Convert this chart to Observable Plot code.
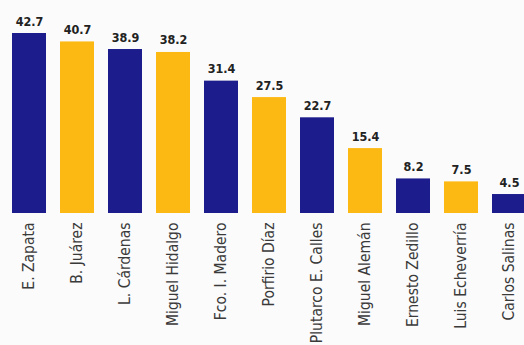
<!DOCTYPE html>
<html>
<head>
<meta charset="utf-8">
<script src="https://cdn.jsdelivr.net/npm/d3@7"></script>
<script src="https://cdn.jsdelivr.net/npm/@observablehq/plot@0.6"></script>
<style>
  html, body { margin: 0; padding: 0; background: #fbfbfb; }
  #chart { width: 524px; height: 345px; overflow: hidden; }
  #chart svg text { font-stretch: condensed; }
</style>
</head>
<body>
<div id="chart"></div>
<script>
const names = ["E. Zapata", "B. Juárez", "L. Cárdenas", "Miguel Hidalgo", "Fco. I. Madero", "Porfirio Díaz", "Plutarco E. Calles", "Miguel Alemán", "Ernesto Zedillo", "Luis Echeverría", "Carlos Salinas"];
const values = [42.7, 40.7, 38.9, 38.2, 31.4, 27.5, 22.7, 15.4, 8.2, 7.5, 4.5];
const groups = ["a", "b", "a", "b", "a", "b", "a", "b", "a", "b", "a"];
const labels = ["42.7", "40.7", "38.9", "38.2", "31.4", "27.5", "22.7", "15.4", "8.2", "7.5", "4.5"];

const data = names.map((n, i) => ({name: n, value: values[i], group: groups[i], label: labels[i]}));

const chart = Plot.plot({
  width: 524,
  height: 345,
  marginTop: 33,
  marginBottom: 132,
  marginLeft: 0,
  marginRight: 0,
  style: {background: "#fbfbfb", fontFamily: "'DejaVu Sans', sans-serif"},
  x: {domain: names, range: [5, 533], paddingInner: 0.29, paddingOuter: 0.145, label: null},
  y: {domain: [0, 42.7], axis: null},
  color: {domain: ["a", "b"], range: ["#1c1c8c", "#fdb913"]},
  marks: [
    Plot.barY(data, {x: "name", y: "value", fill: "group"}),
    Plot.text(data, {x: "name", y: "value", text: "label", dy: -12, fontSize: 12.5, fontWeight: "bold", fill: "#222"}),
    Plot.axisX({tickSize: 0, tickPadding: 9, tickRotate: -90, fontSize: 15.5, fill: "#3a3a3a", label: null})
  ]
});
document.getElementById("chart").appendChild(chart);
</script>
</body>
</html>
